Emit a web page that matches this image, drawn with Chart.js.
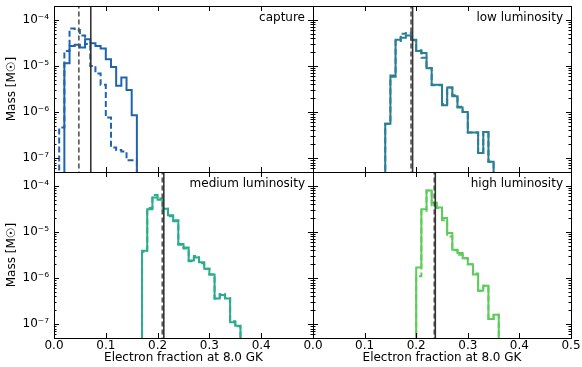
<!DOCTYPE html>
<html>
<head>
<meta charset="utf-8">
<script src="https://cdn.jsdelivr.net/npm/chart.js@4.4.1/dist/chart.umd.min.js"></script>
<style>
    body { margin: 0; background: #fff; }
    #wrap { position: relative; width: 582px; height: 367px; }
    #wrap canvas { position: absolute; left: 0; top: 0; }
</style>
</head>
<body>
<div id="wrap">
    <canvas id="c0" width="582" height="367"></canvas>
    <canvas id="c1" width="582" height="367"></canvas>
    <canvas id="c2" width="582" height="367"></canvas>
    <canvas id="c3" width="582" height="367"></canvas>
</div>
<script>
// histogram bins are 0.01 wide, values are mass per bin (M_sun)
const binWidth = 0.01;
const xTicks = [0.0, 0.1, 0.2, 0.3, 0.4, 0.5];
const yTicks = [1e-7, 1e-6, 1e-5, 1e-4];

const captureSolidStart = 0.02;
const captureSolid = [1.15e-5, 2.7e-5, 2.9e-5, 2.5e-5, 3.8e-5, 3.1e-5, 2.7e-5, 2.4e-5, 1.4e-5, 9.5e-6, 3.7e-6, 5.6e-6, 3.0e-6, 8.5e-7];
const captureDashedStart = 0.01;
const captureDashed = [4.6e-7, 2.1e-5, 6.5e-5, 6.0e-5, 4.6e-5, 3.0e-5, 1.0e-5, 6.9e-6, 3.9e-6, 7.6e-7, 1.7e-7, 1.5e-7, 1.4e-7, 9e-8, 9e-8];
const captureMeans = [0.048, 0.071];

const lowSolidStart = 0.14;
const lowSolid = [5.6e-7, 6.2e-6, 3.7e-5, 4.1e-5, 4.6e-5, 3.7e-5, 2.1e-5, 1.9e-5, 8.9e-6, 3.9e-6, 3.9e-6, 1.4e-6, 3.4e-6, 2.2e-6, 1.25e-6, 1.0e-6, 3.6e-7, 3.6e-7, 1.3e-7, 3.7e-7, 8.3e-8];
const lowDashedStart = 0.14;
const lowDashed = [5.6e-7, 5.8e-6, 3.5e-5, 5.0e-5, 5.2e-5, 3.6e-5, 2.2e-5, 1.5e-5, 9.0e-6, 3.8e-6, 3.8e-6, 1.5e-6, 3.4e-6, 2.3e-6, 1.3e-6, 1.0e-6, 3.6e-7, 3.6e-7, 1.3e-7, 3.7e-7, 8.3e-8];
const lowMeans = [0.190, 0.193];

const mediumSolidStart = 0.17;
const mediumSolid = [3.9e-6, 3.1e-5, 5.6e-5, 5.0e-5, 3.2e-5, 2.3e-5, 1.8e-5, 5.5e-6, 4.6e-6, 2.4e-6, 2.8e-6, 2.2e-6, 1.6e-6, 1.2e-6, 3.6e-7, 4.3e-7, 3.6e-7, 1.1e-7, 9.2e-8];
const mediumDashedStart = 0.17;
const mediumDashed = [3.7e-6, 3.3e-5, 6.3e-5, 5.3e-5, 3.2e-5, 2.2e-5, 1.7e-5, 5.3e-6, 4.4e-6, 2.3e-6, 3.0e-6, 2.1e-6, 1.6e-6, 1.2e-6, 3.6e-7, 4.5e-7, 3.7e-7, 1.15e-7, 9e-8];
const mediumMeans = [0.209, 0.212];

const highSolidStart = 0.20;
const highSolid = [1.7e-6, 3.1e-5, 7.9e-5, 4.3e-5, 3.4e-5, 2.0e-5, 9.5e-6, 4.1e-6, 3.5e-6, 2.7e-6, 2.0e-6, 1.2e-6, 5.3e-7, 6.8e-7, 1.3e-7, 1.6e-7];
const highDashedStart = 0.20;
const highDashed = [1.1e-6, 2.9e-5, 7.9e-5, 3.6e-5, 3.3e-5, 1.8e-5, 8.0e-6, 4.0e-6, 3.2e-6, 2.7e-6, 2.0e-6, 1.25e-6, 5.3e-7, 6.8e-7, 1.3e-7, 1.6e-7];
const highMeans = [0.235, 0.237];

const FLOOR = 1e-10;
const Y_MIN = 5e-8, Y_MAX = 2e-4;
const W = 582, H = 367;

Chart.defaults.font.family = "'DejaVu Sans', sans-serif";
Chart.defaults.font.size = 12;
Chart.defaults.color = '#000';

const SUP = { '-': '\u207B', '0': '\u2070', '1': '\u00B9', '2': '\u00B2', '3': '\u00B3', '4': '\u2074', '5': '\u2075', '6': '\u2076', '7': '\u2077', '8': '\u2078', '9': '\u2079' };
const sup = n => String(n).split('').map(c => SUP[c]).join('');

function stepPoints(start, values) {
    const pts = [{ x: start, y: FLOOR }];
    values.forEach((v, i) => pts.push({ x: start + i * binWidth, y: v }));
    pts.push({ x: start + values.length * binWidth, y: FLOOR });
    return pts;
}

function vline(x) {
    return [{ x: x, y: FLOOR }, { x: x, y: 1 }];
}

// frame, inward tick marks and panel name
const framePlugin = {
    id: 'frame',
    afterDraw(chart, args, opts) {
        const { ctx, chartArea: a, scales } = chart;
        const x = scales.x, y = scales.y;
        ctx.save();
        ctx.strokeStyle = '#000';
        ctx.lineWidth = 1;
        ctx.beginPath();
        xTicks.forEach(v => {
            const px = Math.round(x.getPixelForValue(v)) + 0.5;
            ctx.moveTo(px, a.bottom); ctx.lineTo(px, a.bottom - 5);
            ctx.moveTo(px, a.top); ctx.lineTo(px, a.top + 5);
        });
        for (let e = -8; e <= -4; e++) {
            for (let m = 1; m <= 9; m++) {
                const v = m * Math.pow(10, e);
                if (v < Y_MIN || v > Y_MAX) continue;
                const py = Math.round(y.getPixelForValue(v)) + 0.5;
                const len = m === 1 ? 5 : 2.5;
                ctx.moveTo(a.left, py); ctx.lineTo(a.left + len, py);
                ctx.moveTo(a.right, py); ctx.lineTo(a.right - len, py);
            }
        }
        ctx.stroke();
        ctx.strokeRect(Math.round(a.left) + 0.5, Math.round(a.top) + 0.5,
            Math.round(a.right - a.left), Math.round(a.bottom - a.top));
        ctx.fillStyle = '#000';
        ctx.font = "12px 'DejaVu Sans', sans-serif";
        ctx.textAlign = 'right';
        ctx.textBaseline = 'middle';
        ctx.fillText(opts.name, a.right - 8, a.top + 12);
        ctx.restore();
    }
};

const panels = [
    { id: 'c0', name: 'capture', color: '#1f64ad', area: [54, 6, 313, 172], left: true, bottom: false,
      solid: stepPoints(captureSolidStart, captureSolid), dashed: stepPoints(captureDashedStart, captureDashed), means: captureMeans },
    { id: 'c1', name: 'low luminosity', color: '#2b7f95', area: [313, 6, 571, 172], left: false, bottom: false,
      solid: stepPoints(lowSolidStart, lowSolid), dashed: stepPoints(lowDashedStart, lowDashed), means: lowMeans },
    { id: 'c2', name: 'medium luminosity', color: '#2aad8a', area: [54, 172, 313, 338], left: true, bottom: true,
      solid: stepPoints(mediumSolidStart, mediumSolid), dashed: stepPoints(mediumDashedStart, mediumDashed), means: mediumMeans },
    { id: 'c3', name: 'high luminosity', color: '#5dcc5d', area: [313, 172, 571, 338], left: false, bottom: true,
      solid: stepPoints(highSolidStart, highSolid), dashed: stepPoints(highDashedStart, highDashed), means: highMeans }
];

panels.forEach(p => {
    const [L, T, R, B] = p.area;
    const yAxisW = p.left ? L : 0;
    const xAxisH = p.bottom ? H - B : 0;
    new Chart(document.getElementById(p.id), {
        type: 'line',
        data: {
            datasets: [
                { data: vline(p.means[1]), borderColor: '#333', borderWidth: 1.6 },
                { data: vline(p.means[0]), borderColor: '#555', borderWidth: 1.6, borderDash: [5, 3] },
                { data: p.solid, borderColor: p.color, borderWidth: 2, stepped: true },
                { data: p.dashed, borderColor: p.color, borderWidth: 2, stepped: true, borderDash: [6, 3] }
            ]
        },
        options: {
            responsive: false,
            animation: false,
            devicePixelRatio: 1,
            events: [],
            layout: { padding: { left: L - yAxisW, top: T, right: W - R, bottom: H - B - xAxisH } },
            elements: { point: { radius: 0 }, line: { tension: 0, borderCapStyle: 'butt', borderJoinStyle: 'miter' } },
            plugins: { legend: { display: false }, tooltip: { enabled: false }, frame: { name: p.name } },
            scales: {
                x: {
                    type: 'linear', min: 0, max: 0.5, display: p.bottom,
                    afterBuildTicks: s => { s.ticks = xTicks.map(v => ({ value: v })); },
                    afterFit: s => { s.height = xAxisH; s.paddingLeft = 0; s.paddingRight = 0; },
                    grid: { display: false, drawTicks: false },
                    border: { display: false },
                    ticks: {
                        padding: 1, maxRotation: 0, autoSkip: false,
                        callback: v => (p.left && v > 0.45) ? '' : v.toFixed(1)
                    },
                    title: { display: true, text: 'Electron fraction at 8.0 GK', padding: { top: 0, bottom: 2 } }
                },
                y: {
                    type: 'logarithmic', min: Y_MIN, max: Y_MAX, display: p.left,
                    afterBuildTicks: s => { s.ticks = yTicks.map(v => ({ value: v })); },
                    afterFit: s => { s.width = yAxisW; s.paddingTop = 0; s.paddingBottom = 0; },
                    grid: { display: false, drawTicks: false },
                    border: { display: false },
                    ticks: {
                        padding: 5, autoSkip: false,
                        callback: v => '10' + sup(Math.round(Math.log10(v)))
                    },
                    title: { display: true, text: 'Mass [M\u2609]', padding: { top: 5, bottom: 0 } }
                }
            }
        },
        plugins: [framePlugin]
    });
});
</script>
</body>
</html>
